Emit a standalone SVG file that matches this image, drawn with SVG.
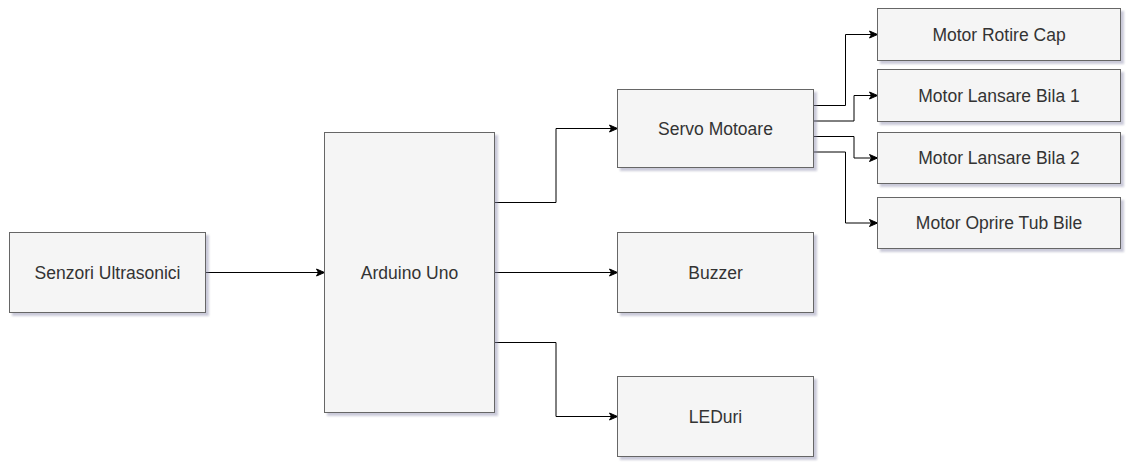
<svg xmlns="http://www.w3.org/2000/svg" width="1131" height="468" viewBox="0 0 1131 468">
<defs>
<style>
.box{fill:#f5f5f5;stroke:#666666;stroke-width:1;filter:url(#sh)}
.lbl{font-family:"Liberation Sans",Arial,sans-serif;font-size:17.5px;fill:#333333;text-anchor:middle}
.edge{fill:none;stroke:#000000;stroke-width:1;marker-end:url(#arr)}
</style>
<filter id="sh" x="-10%" y="-10%" width="130%" height="130%">
<feGaussianBlur in="SourceAlpha" stdDeviation="0.8"/>
<feOffset dx="3" dy="3" result="o"/>
<feColorMatrix type="matrix" values="0 0 0 0 0.25  0 0 0 0 0.25  0 0 0 0 0.4  0 0 0 0.45 0"/>
<feMerge><feMergeNode/><feMergeNode in="SourceGraphic"/></feMerge>
</filter>
<marker id="arr" markerUnits="userSpaceOnUse" markerWidth="10" markerHeight="10" viewBox="0 0 10 10" refX="9" refY="5" orient="auto">
<path d="M1,1.5 L9,5 L1,8.5 L3,5 Z" fill="#000000" stroke="#000000" stroke-width="1"/>
</marker>
</defs>
<rect width="1131" height="468" fill="#ffffff"/>
<g id="connectors">
<path class="edge" d="M205.5,272.5 H324.5"/>
<path class="edge" d="M494.5,202.5 H556 V128.5 H617.5"/>
<path class="edge" d="M494.5,272.5 H617.5"/>
<path class="edge" d="M494.5,342.5 H556 V416.5 H617.5"/>
<path class="edge" d="M813.5,105.5 H845.5 V34.5 H877.5"/>
<path class="edge" d="M813.5,121 H854 V95.5 H877.5"/>
<path class="edge" d="M813.5,136.5 H854 V158 H877.5"/>
<path class="edge" d="M813.5,152 H845.5 V223 H877.5"/>
</g>
<g id="senzori"><rect class="box" x="9.5" y="232.5" width="196" height="80"/><text class="lbl" x="107.5" y="278.5">Senzori Ultrasonici</text></g>
<g id="arduino"><rect class="box" x="324.5" y="132.5" width="170" height="280"/><text class="lbl" x="409.5" y="278.5">Arduino Uno</text></g>
<g id="servo"><rect class="box" x="617.5" y="89.5" width="196" height="78"/><text class="lbl" x="715.5" y="134.5">Servo Motoare</text></g>
<g id="buzzer"><rect class="box" x="617.5" y="232.5" width="196" height="80"/><text class="lbl" x="715.5" y="278.5">Buzzer</text></g>
<g id="leduri"><rect class="box" x="617.5" y="376.5" width="196" height="80"/><text class="lbl" x="715.5" y="422.5">LEDuri</text></g>
<g id="motor-rotire"><rect class="box" x="877.5" y="8.5" width="243" height="52"/><text class="lbl" x="999" y="40.5">Motor Rotire Cap</text></g>
<g id="motor-bila1"><rect class="box" x="877.5" y="69.5" width="243" height="52"/><text class="lbl" x="999" y="101.5">Motor Lansare Bila 1</text></g>
<g id="motor-bila2"><rect class="box" x="877.5" y="132.5" width="243" height="51"/><text class="lbl" x="999" y="164">Motor Lansare Bila 2</text></g>
<g id="motor-oprire"><rect class="box" x="877.5" y="197.5" width="243" height="51"/><text class="lbl" x="999" y="229">Motor Oprire Tub Bile</text></g>
</svg>
